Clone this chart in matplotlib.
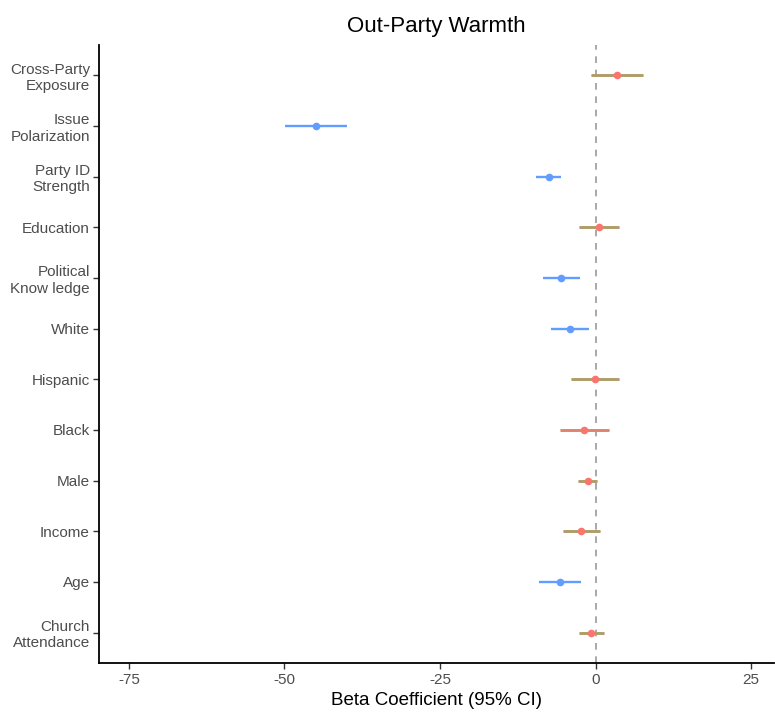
#!/usr/bin/env python3

import numpy as np
from matplotlib import pyplot as plt

plt.rcParams["font.family"] = ["Liberation Sans", "DejaVu Sans"]

# predictors, top to bottom
labels = ["Cross-Party\nExposure", "Issue\nPolarization", "Party ID\nStrength",
          "Education", "Political\nKnow ledge", "White", "Hispanic", "Black",
          "Male", "Income", "Age", "Church\nAttendance"]
beta = [3.4, -45.0, -7.5, 0.5, -5.5, -4.1, -0.1, -1.8, -1.2, -2.3, -5.7, -0.7]
ci_low = [-0.7, -49.9, -9.5, -2.6, -8.4, -7.2, -4.0, -5.7, -2.8, -5.3, -9.1, -2.7]
ci_high = [7.6, -39.9, -5.6, 3.7, -2.5, -1.0, 3.7, 2.1, 0.3, 0.7, -2.4, 1.3]
# significant (negative) effects are drawn in blue
signif = [False, True, True, False, True, True, False, False, False, False,
          True, False]

BLUE = "#619CFF"
RED = "#F8766D"
OLIVE = "#A9A36A"

fig = plt.figure(figsize=(7.75, 7.13), dpi=100)
ax = fig.add_axes([0.1277, 0.0701, 0.8705, 0.867])

n = len(labels)
ypos = np.arange(n)[::-1]

for y, b, lo, hi, s in zip(ypos, beta, ci_low, ci_high, signif):
    if s:
        ax.plot([lo, hi], [y, y], color=BLUE, lw=1.7, solid_capstyle="butt")
        ax.plot(b, y, "o", color=BLUE, ms=5.5, mec="none")
    else:
        ax.plot([lo, hi], [y, y], color=OLIVE, lw=2.1, solid_capstyle="butt")
        ax.plot([lo, hi], [y, y], color=RED, lw=0.9, alpha=0.7,
                solid_capstyle="butt")
        ax.plot(b, y, "o", color=RED, ms=5.5, mec="none")

ax.axvline(0, color="#999999", ls=(0, (4, 4)), lw=1.2, zorder=0)

ax.set_xlim(-79.8, 28.6)
ax.set_ylim(-0.6, n - 1 + 0.6)
ax.set_yticks(ypos)
ax.set_yticklabels(labels, fontsize=11, color="#4D4D4D", linespacing=1.2,
                   multialignment="right")
ax.set_xticks([-75, -50, -25, 0, 25])
ax.set_xticklabels(["-75", "-50", "-25", "0", "25"], fontsize=11,
                   color="#4D4D4D")
ax.tick_params(length=4, width=1, color="#333333")
ax.tick_params(axis="y", pad=2.5)

for side in ["top", "right"]:
    ax.spines[side].set_visible(False)
for side in ["left", "bottom"]:
    ax.spines[side].set_linewidth(1.3)

ax.set_xlabel("Beta Coefficient (95% CI)", fontsize=13.5, labelpad=3)
ax.set_title("Out-Party Warmth", fontsize=16, pad=9)

plt.savefig("out.png")
